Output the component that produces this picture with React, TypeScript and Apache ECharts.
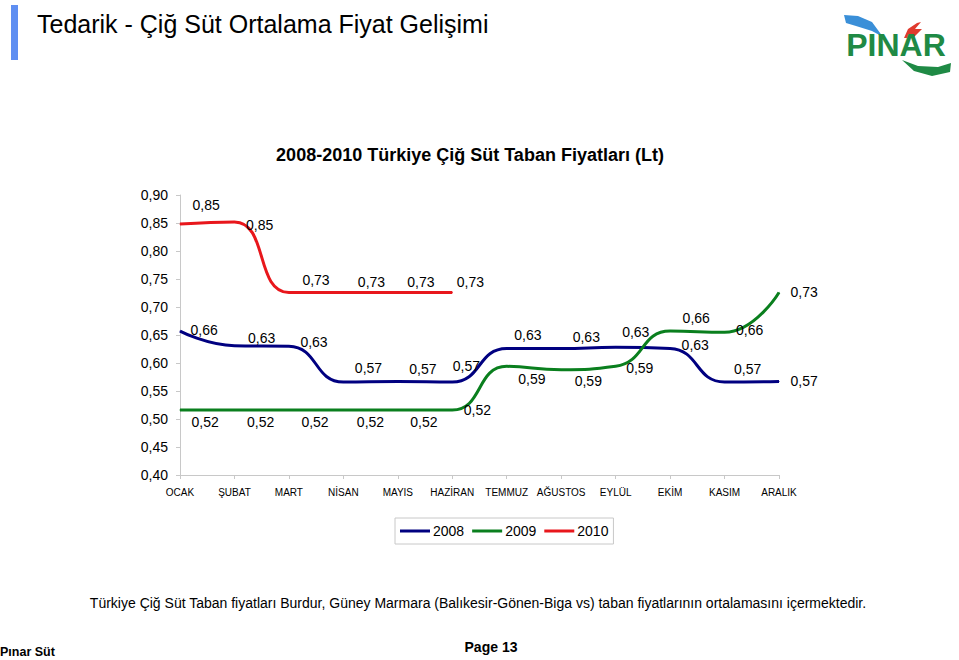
import React, { useEffect, useRef } from "react";
import * as echarts from "echarts";

const months = ["OCAK", "ŞUBAT", "MART", "NİSAN", "MAYIS", "HAZİRAN", "TEMMUZ", "AĞUSTOS", "EYLÜL", "EKİM", "KASIM", "ARALIK"];
const years = ["2008", "2009", "2010"];
const values2008 = [0.657, 0.631, 0.630, 0.566, 0.567, 0.566, 0.626, 0.626, 0.628, 0.626, 0.566, 0.567];
const values2009 = [0.516, 0.516, 0.516, 0.516, 0.516, 0.516, 0.594, 0.588, 0.594, 0.657, 0.655, 0.726];
const values2010 = [0.848, 0.852, 0.726, 0.726, 0.726, 0.726];
const yTicks = { min: 0.4, max: 0.9, step: 0.05 };

const pageTitle = "Tedarik - Çiğ Süt Ortalama Fiyat Gelişimi";
const chartTitle = "2008-2010 Türkiye Çiğ Süt Taban Fiyatları (Lt)";
const footnote = "Türkiye Çiğ Süt Taban fiyatları Burdur, Güney Marmara (Balıkesir-Gönen-Biga vs) taban fiyatlarının ortalamasını içermektedir.";
const company = "Pınar Süt";
const pageLabel = "Page 13";

// label placement (style only): horizontal and vertical shift of each data label from its point
const labelDx = [
  [10, 13, 11, 11, 11, 0, 7, 11, 6, 11, 9, 11],
  [11, 12, 12, 13, 12, 11, 11, 13, 10, 12, 11, 11],
  [12, 11, 13, 14, 9, 4],
];
const labelDy = [
  [-1, -8, -4, -14, -12, -16, -13, -11, -15, -3, -13, 0],
  [12, 12, 12, 12, 12, 0, 13, 11, 2, -13, -2, 0],
  [-19, 3, -12, -10, -10, -10],
];

const FONT = "'Liberation Sans', Arial, sans-serif";
const colors = ["#000080", "#0a7f1e", "#e8171c"];

const fmt = (v: number) => v.toFixed(2).replace(".", ",");

export default function App() {
  const ref = useRef<HTMLDivElement>(null);
  useEffect(() => {
    if (!ref.current) return;
    const chart = echarts.init(ref.current, null, { renderer: "svg" });
    const seriesData = [values2008, values2009, values2010];
    chart.setOption({
      animation: false,
      backgroundColor: "#ffffff",
      textStyle: { fontFamily: FONT },
      grid: { left: 180, right: 180, top: 195, bottom: 185, containLabel: false },
      legend: {
        data: years,
        left: 395,
        top: 518,
        orient: "horizontal",
        icon: "rect",
        itemWidth: 30,
        itemHeight: 3,
        itemGap: 8,
        padding: [6, 5],
        borderColor: "#c8c8c8",
        borderWidth: 1,
        textStyle: { fontSize: 14, color: "#000", fontFamily: FONT, padding: [0, 0, 0, -2] },
      },
      xAxis: {
        type: "category",
        data: months,
        boundaryGap: false,
        axisLine: { lineStyle: { color: "#c8c8c8", width: 1 } },
        axisTick: { show: true, length: 4, lineStyle: { color: "#c8c8c8" } },
        axisLabel: { fontSize: 10, color: "#000", margin: 12, fontFamily: FONT, interval: 0 },
        splitLine: { show: false },
      },
      yAxis: {
        type: "value",
        min: yTicks.min,
        max: yTicks.max,
        interval: yTicks.step,
        axisLine: { show: true, lineStyle: { color: "#c8c8c8", width: 1 } },
        axisTick: { show: true, length: 4, lineStyle: { color: "#c8c8c8" } },
        axisLabel: { fontSize: 14, color: "#000", margin: 12, fontFamily: FONT, formatter: (v: number) => fmt(v) },
        splitLine: { show: false },
      },
      series: years.map((y, i) => ({
        name: y,
        type: "line",
        data: seriesData[i].map((v, j) => ({
          value: v,
          label: { offset: [labelDx[i][j], labelDy[i][j]] },
        })),
        smooth: 0.5,
        symbol: "circle",
        symbolSize: 1,
        showSymbol: true,
        itemStyle: { color: colors[i] },
        lineStyle: { color: colors[i], width: 3 },
        label: {
          show: true,
          position: "right",
          distance: 0,
          fontSize: 14,
          color: "#000",
          fontFamily: FONT,
          formatter: (p: any) => fmt(p.value),
        },
      })),
      graphic: [
        { type: "rect", shape: { x: 11, y: 5, width: 7, height: 55 }, style: { fill: "#5f8ff2" } },
        {
          type: "text",
          x: 37,
          y: 24,
          style: { text: pageTitle, fontSize: 25, fontFamily: FONT, fill: "#000", verticalAlign: "middle" },
        },
        {
          type: "text",
          x: 470,
          y: 155,
          style: { text: chartTitle, fontSize: 18, fontWeight: "bold", fontFamily: FONT, fill: "#000", align: "center", verticalAlign: "middle" },
        },
        {
          type: "text",
          x: 478,
          y: 603,
          style: { text: footnote, fontSize: 14, fontFamily: FONT, fill: "#000", align: "center", verticalAlign: "middle" },
        },
        {
          type: "text",
          x: 0,
          y: 652,
          style: { text: company, fontSize: 12.5, fontWeight: "bold", fontFamily: FONT, fill: "#000", verticalAlign: "middle" },
        },
        {
          type: "text",
          x: 491,
          y: 647,
          style: { text: pageLabel, fontSize: 14, fontWeight: "bold", fontFamily: FONT, fill: "#000", align: "center", verticalAlign: "middle" },
        },
        // logo
        {
          type: "polygon",
          shape: { points: [[844, 15], [858, 16], [872, 22], [883, 37], [872, 31], [856, 26], [846, 23]] },
          style: { fill: "#3a8fd8" },
        },
        {
          type: "polygon",
          shape: { points: [[904, 38], [908, 29], [917, 23], [921, 22], [915, 29], [922, 29], [913, 38]] },
          style: { fill: "#e03a2e" },
        },
        {
          type: "polygon",
          shape: { points: [[902, 60], [918, 66], [938, 67], [951, 63], [950, 72], [932, 76], [914, 71]] },
          style: { fill: "#1f8a45" },
        },
        {
          type: "text",
          x: 896,
          y: 45,
          style: { text: "PINAR", fontSize: 32, fontWeight: "bold", fontFamily: FONT, fill: "#1f8a45", align: "center", verticalAlign: "middle" },
        },
      ],
    });
    return () => chart.dispose();
  }, []);
  return <div ref={ref} style={{ position: "fixed", left: 0, top: 0, width: 959, height: 660 }} />;
}
